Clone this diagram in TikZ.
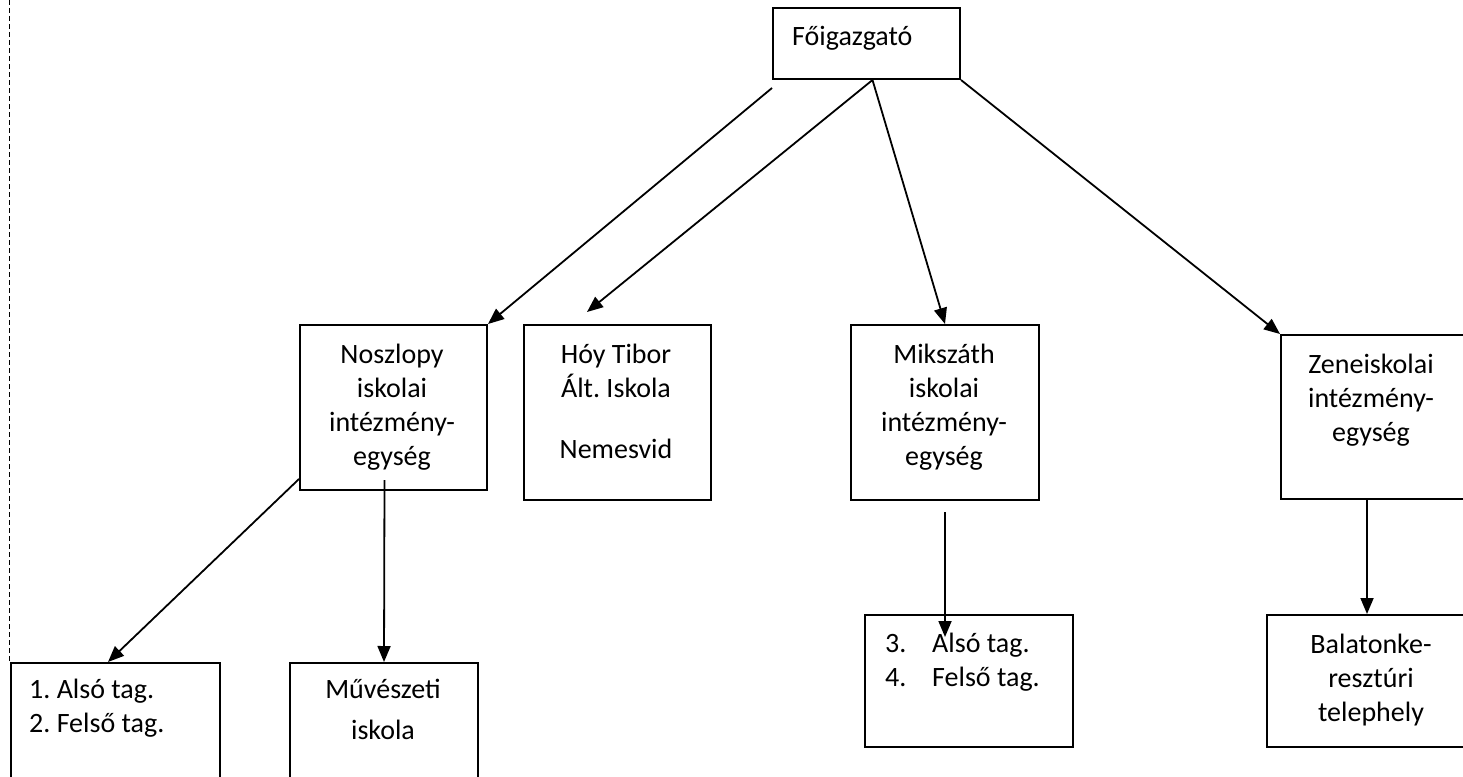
\documentclass[tikz,border=0pt]{standalone}
\usepackage{fontspec}
\setmainfont{Carlito}
\usetikzlibrary{arrows.meta}
\tikzset{
  box/.style={draw, line width=2pt, rectangle, inner sep=0pt, anchor=north west},
  arr/.style={line width=1.8pt, -{Triangle[length=16pt,width=13pt]}},
  dashline/.style={line width=1.8pt, dash pattern=on 5pt off 3pt},
  txt/.style={anchor=base, inner sep=0pt, font=\fontsize{28}{34}\selectfont\frenchspacing},
  txtl/.style={txt, anchor=base west},
}
\begin{document}
\begin{tikzpicture}[x=1pt,y=-1pt]
\useasboundingbox (0,0) rectangle (1463,776);
% boxes
\node[box, minimum width=187pt, minimum height=71pt]  (fo)    at (772,7)   {};
\node[box, minimum width=187pt, minimum height=165pt] (nosz)  at (299,324) {};
\node[box, minimum width=187pt, minimum height=175pt] (hoy)   at (523,324) {};
\node[box, minimum width=188pt, minimum height=175pt] (miks)  at (850,324) {};
\node[box, minimum width=220pt, minimum height=164pt] (zene)  at (1280,334) {};
\node[box, minimum width=209pt, minimum height=140pt] (also)  at (9.5,662) {};
\node[box, minimum width=188pt, minimum height=140pt] (muv)   at (289,662) {};
\node[box, minimum width=208pt, minimum height=132pt] (also2) at (864,614) {};
\node[box, minimum width=220pt, minimum height=132pt] (bal)   at (1266,614) {};
% texts
\node[txtl] (t-fo) at (792,46) {Főigazgató};
\node[txt] (t-nosz) at (392,363) {\begin{tabular}[t]{@{}c@{}}Noszlopy\\iskolai\\intézmény-\\egység\end{tabular}};
\node[txt] (t-hoy) at (616,363) {\begin{tabular}[t]{@{}c@{}}Hóy Tibor\\Ált. Iskola\\[27pt]Nemesvid\end{tabular}};
\node[txt] (t-miks) at (944,363) {\begin{tabular}[t]{@{}c@{}}Mikszáth\\iskolai\\intézmény-\\egység\end{tabular}};
\node[txt] (t-zene) at (1371,373) {\begin{tabular}[t]{@{}c@{}}Zeneiskolai\\intézmény-\\egység\end{tabular}};
\node[txtl] (t-also) at (29,698) {\begin{tabular}[t]{@{}l@{}}1. Alsó tag.\\2. Felső tag.\end{tabular}};
\node[txt] (t-muv) at (383,698) {\begin{tabular}[t]{@{}c@{}}Művészeti\\[7pt]iskola\end{tabular}};
\node[txtl] (t-also2) at (885,652) {\begin{tabular}[t]{@{}l@{}}\makebox[47pt][l]{3.}Alsó tag.\\\makebox[47pt][l]{4.}Felső tag.\end{tabular}};
\node[txt] (t-bal) at (1371,653) {\begin{tabular}[t]{@{}c@{}}Balatonke-\\resztúri\\telephely\end{tabular}};
% free ends
\coordinate (s1) at (772,88);
\coordinate (e2) at (587,312);
\coordinate (s7) at (945,512);
\coordinate (e7) at (945,637);
\coordinate (s8) at (1367,498);
\coordinate (d0) at (9.5,0);
% connectors
\draw[dashline] (d0) -- (also.north west);
\draw[arr] (s1) -- (nosz.north east);
\draw[arr] ([xshift=6pt]fo.south) -- (e2);
\draw[arr] ([xshift=6pt]fo.south) -- (miks.north);
\draw[arr] (fo.south east) -- (zene.north west);
\draw[arr] ([yshift=12pt]nosz.south west) -- ([xshift=-7pt]also.north);
\draw[arr] ([xshift=-9pt,yshift=11pt]nosz.south) -- (muv.north);
\draw[arr] (s7) -- (e7);
\draw[arr] (s8) -- (s8 |- bal.north);
\end{tikzpicture}
\end{document}
